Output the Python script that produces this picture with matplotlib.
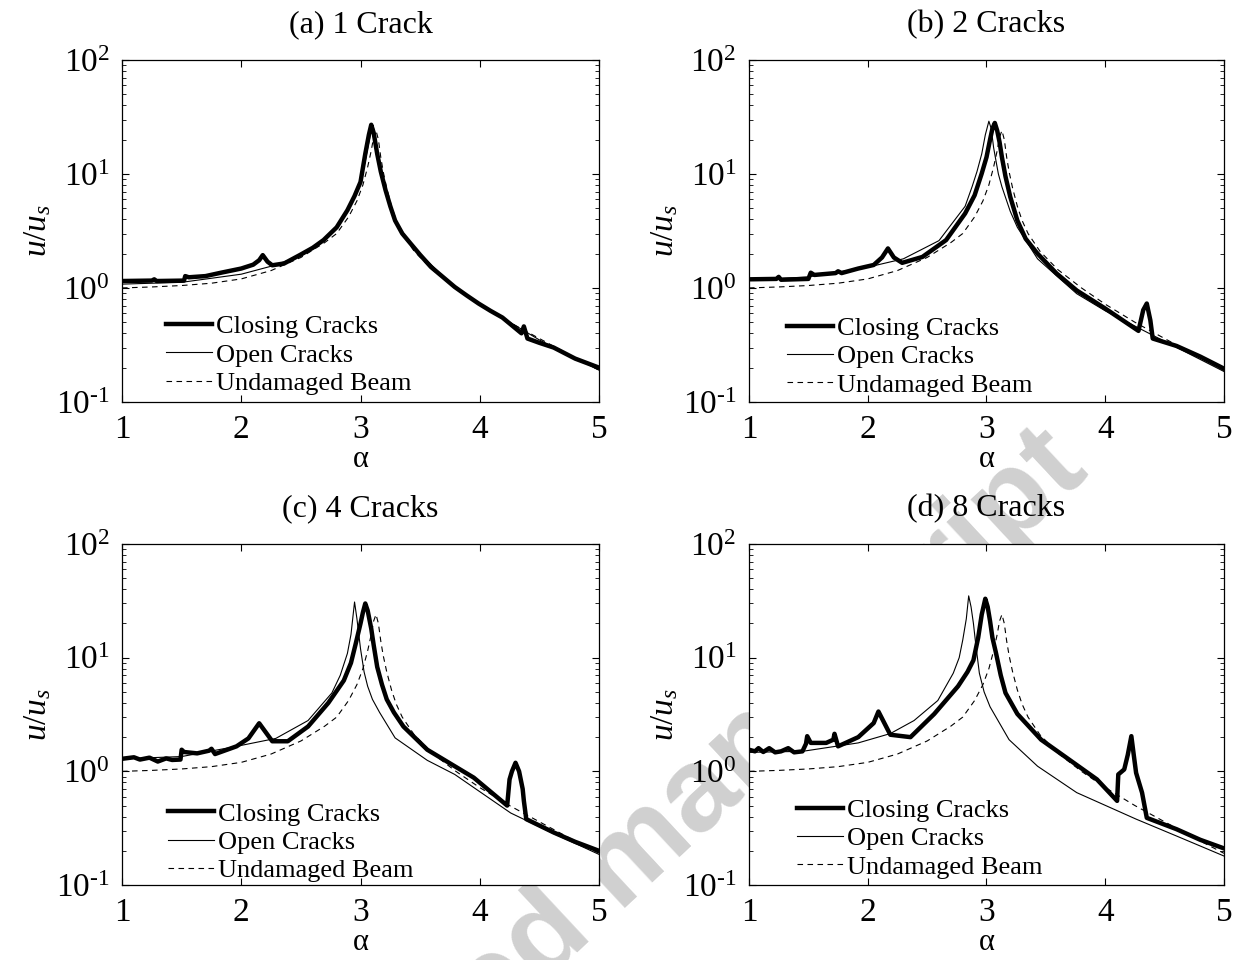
import numpy as np
import matplotlib
matplotlib.use("Agg")
import matplotlib.pyplot as plt

plt.rcParams['font.family'] = ['Liberation Serif', 'DejaVu Serif']
plt.rcParams['mathtext.fontset'] = 'custom'
plt.rcParams['mathtext.rm'] = 'Liberation Serif'
plt.rcParams['mathtext.it'] = 'Liberation Serif:italic'

# undamaged beam, same in every panel
und_alpha = [1.0, 1.25, 1.5, 1.75, 2.0, 2.25, 2.5, 2.7, 2.8, 2.9, 2.97, 3.02, 3.06, 3.09, 3.11,
             3.13, 3.15, 3.17, 3.19, 3.22, 3.26, 3.3, 3.35, 3.45, 3.6, 3.8, 4.0, 4.25, 4.5,
             4.75, 5.0]
und_u = [1.0, 1.02, 1.05, 1.1, 1.2, 1.42, 1.85, 2.5, 3.0, 4.2, 5.8, 8.0, 11.5, 16, 21,
         24, 20, 14, 10.5, 7.5, 5.2, 3.9, 3.0, 2.1, 1.45, 1.0, 0.72, 0.5, 0.36,
         0.26, 0.19]

# (a) 1 crack
a_close_alpha = [1.0, 1.25, 1.27, 1.29, 1.52, 1.53, 1.56, 1.7, 1.83, 2.0, 2.1, 2.15, 2.18, 2.22,
                 2.26, 2.36, 2.49, 2.6, 2.69, 2.8, 2.89, 2.95, 3.0, 3.04, 3.07, 3.09, 3.11, 3.14,
                 3.17, 3.21, 3.25, 3.29, 3.35, 3.42, 3.5, 3.59, 3.69, 3.79, 3.89, 3.99, 4.09,
                 4.19, 4.35, 4.37, 4.40, 4.5, 4.62, 4.8, 5.0]
a_close_u = [1.15, 1.16, 1.19, 1.15, 1.16, 1.27, 1.24, 1.27, 1.36, 1.48, 1.6, 1.75, 1.94, 1.7,
             1.58, 1.64, 1.94, 2.25, 2.63, 3.4, 4.8, 6.4, 8.5, 15, 22, 27, 23, 15,
             10.5, 7.2, 5.2, 3.9, 3.0, 2.45, 1.95, 1.53, 1.25, 1.02, 0.86, 0.73, 0.63,
             0.55, 0.40, 0.46, 0.36, 0.33, 0.30, 0.24, 0.20]
a_open_alpha = [1.0, 1.5, 2.0, 2.25, 2.5, 2.7, 2.85, 2.95, 3.0, 3.04, 3.07, 3.09, 3.11, 3.13,
                3.16, 3.2, 3.25, 3.3, 3.4, 3.5, 3.75, 4.0, 4.5, 5.0]
a_open_u = [1.08, 1.12, 1.32, 1.55, 1.9, 2.6, 4.0, 6.2, 8.5, 13, 19, 24, 25, 19,
            12, 7.5, 5.0, 3.8, 2.6, 2.0, 1.1, 0.72, 0.35, 0.19]

# (b) 2 cracks
b_close_alpha = [1.0, 1.23, 1.25, 1.27, 1.5, 1.52, 1.55, 1.73, 1.75, 1.78, 1.92, 2.05, 2.12, 2.17,
                 2.22, 2.29, 2.46, 2.66, 2.82, 2.9, 2.96, 3.0, 3.03, 3.05, 3.07, 3.09, 3.11,
                 3.13, 3.16, 3.2, 3.26, 3.33, 3.43, 3.59, 3.76, 4.0, 4.28, 4.32, 4.35, 4.38,
                 4.40, 4.6, 4.8, 5.0]
b_close_u = [1.19, 1.2, 1.25, 1.18, 1.2, 1.36, 1.3, 1.35, 1.4, 1.35, 1.48, 1.59, 1.85, 2.22,
             1.85, 1.66, 1.87, 2.63, 4.5, 6.5, 10.1, 14, 20, 25, 28, 24, 19,
             14, 9.5, 6.3, 3.9, 2.7, 2.0, 1.34, 0.95, 0.66, 0.42, 0.64, 0.73, 0.52,
             0.36, 0.31, 0.25, 0.196]
b_open_alpha = [1.0, 1.5, 2.0, 2.3, 2.6, 2.82, 2.88, 2.92, 2.96, 2.99, 3.02, 3.04, 3.06, 3.08,
                3.1, 3.13, 3.2, 3.26, 3.43, 3.6, 3.76, 4.0, 4.5, 5.0]
b_open_u = [1.17, 1.25, 1.52, 1.8, 2.6, 5.2, 7.8, 10.5, 15, 22, 29, 25, 17, 13,
            10, 7.7, 4.7, 3.4, 1.8, 1.25, 0.89, 0.63, 0.34, 0.185]

# (c) 4 cracks
c_close_alpha = [1.0, 1.1, 1.15, 1.23, 1.3, 1.37, 1.42, 1.49, 1.5, 1.52, 1.63, 1.73, 1.75, 1.78,
                 1.96, 2.06, 2.15, 2.26, 2.39, 2.56, 2.73, 2.86, 2.92, 2.96, 3.0, 3.02, 3.04,
                 3.06, 3.09, 3.11, 3.14, 3.18, 3.22, 3.28, 3.36, 3.56, 3.79, 3.95, 4.23, 4.25,
                 4.27, 4.3, 4.33, 4.36, 4.37, 4.39, 4.62, 4.8, 5.0]
c_close_u = [1.29, 1.33, 1.27, 1.32, 1.22, 1.3, 1.26, 1.27, 1.55, 1.48, 1.44, 1.52, 1.58, 1.42,
             1.66, 1.95, 2.65, 1.84, 1.84, 2.48, 4.0, 6.3, 9.0, 13.3, 20, 25, 30,
             26, 18, 13, 8.3, 5.8, 4.3, 3.3, 2.48, 1.55, 1.11, 0.88, 0.5, 0.85,
             1.0, 1.19, 1.0, 0.7, 0.55, 0.38, 0.29, 0.24, 0.2]
c_open_alpha = [1.0, 1.5, 1.96, 2.29, 2.56, 2.76, 2.83, 2.89, 2.92, 2.95, 2.97, 3.0, 3.03, 3.06,
                3.1, 3.16, 3.29, 3.56, 3.79, 4.26, 4.6, 5.0]
c_open_u = [1.29, 1.35, 1.66, 1.95, 2.8, 4.9, 7.0, 10.9, 16, 30.9, 22, 12, 7.5, 5.6,
            4.3, 3.3, 1.97, 1.25, 0.94, 0.43, 0.29, 0.186]

# (d) 8 cracks
d_close_alpha = [1.0, 1.05, 1.08, 1.12, 1.17, 1.22, 1.27, 1.33, 1.38, 1.45, 1.48, 1.49, 1.52, 1.65,
                 1.71, 1.72, 1.75, 1.92, 2.05, 2.09, 2.19, 2.36, 2.56, 2.76, 2.84, 2.89, 2.93,
                 2.96, 2.99, 3.01, 3.03, 3.05, 3.08, 3.12, 3.16, 3.26, 3.46, 3.66, 3.93, 4.10,
                 4.11, 4.16, 4.19, 4.22, 4.24, 4.26, 4.31, 4.35, 4.6, 4.8, 5.0]
d_close_u = [1.55, 1.5, 1.6, 1.48, 1.6, 1.47, 1.5, 1.6, 1.47, 1.5, 1.75, 2.04, 1.78, 1.78,
             1.9, 2.14, 1.66, 2.0, 2.66, 3.36, 2.1, 2.0, 3.2, 5.6, 7.5, 9.5, 15,
             24, 33, 28, 21, 15, 11, 7.0, 4.9, 3.2, 1.9, 1.35, 0.85, 0.55,
             0.94, 1.04, 1.4, 2.04, 1.4, 0.97, 0.65, 0.39, 0.31, 0.25, 0.21]
d_open_alpha = [1.0, 1.45, 1.92, 2.19, 2.39, 2.59, 2.72, 2.77, 2.80, 2.83, 2.85, 2.87, 2.89, 2.91,
                2.94, 2.98, 3.03, 3.19, 3.43, 3.76, 4.26, 4.6, 5.0]
d_open_u = [1.47, 1.5, 1.78, 2.15, 2.8, 4.2, 7.3, 10, 14.3, 22, 35, 28, 20, 13,
            7.3, 5.0, 3.7, 1.9, 1.11, 0.65, 0.38, 0.27, 0.18]

titles = ['(a) 1 Crack', '(b) 2 Cracks', '(c) 4 Cracks', '(d) 8 Cracks']
labels = ['Closing Cracks', 'Open Cracks', 'Undamaged Beam']
y_ticks = [0.1, 1, 10, 100]
y_tick_labels = [r'10$^{\text{-}1}$', '10$^{0}$', '10$^{1}$', '10$^{2}$']

panels = [
    (a_close_alpha, a_close_u, a_open_alpha, a_open_u),
    (b_close_alpha, b_close_u, b_open_alpha, b_open_u),
    (c_close_alpha, c_close_u, c_open_alpha, c_open_u),
    (d_close_alpha, d_close_u, d_open_alpha, d_open_u),
]

# axes boxes in figure fractions [left, bottom, width, height]
boxes = [[0.0981, 0.5813, 0.3834, 0.3563],
         [0.6021, 0.5813, 0.3818, 0.3563],
         [0.0981, 0.0781, 0.3834, 0.3552],
         [0.6021, 0.0781, 0.3818, 0.3552]]
legend_pos = [(0.07, -0.01), (0.058, -0.015), (0.074, -0.022), (0.079, -0.012)]

fig = plt.figure(figsize=(12.44, 9.6), dpi=100)

# watermark sits behind the axes
fig.text(0.503, 0.098, 'Accepted manuscript', family='Liberation Sans', weight='bold',
         fontsize=86, color='#d0d0d0', rotation=43, rotation_mode='anchor',
         ha='center', va='center', zorder=-5)


# draw one panel
def draw_panel(ax, data, title, lpos):
    ca, cu, oa, ou = data
    l1, = ax.plot(ca, cu, color='black', lw=3.2, zorder=4, solid_joinstyle='round')
    l2, = ax.plot(oa, ou, color='black', lw=0.8, zorder=3)
    l3, = ax.plot(und_alpha, und_u, color='black', lw=0.8, ls=(0, (5, 4)), zorder=2)
    ax.set_yscale('log')
    ax.set_xlim(1, 5)
    ax.set_ylim(0.1, 100)
    ax.set_xticks([1, 2, 3, 4, 5])
    ax.set_xticklabels(['1', '2', '3', '4', '5'])
    ax.set_yticks(y_ticks)
    ax.set_yticklabels(y_tick_labels)
    ax.tick_params(which='both', direction='in', top=True, right=True, labelsize=24, pad=9)
    ax.tick_params(which='major', length=5, width=0.8)
    ax.tick_params(which='minor', length=3, width=0.6)
    for s in ax.spines.values():
        s.set_linewidth(0.9)
    ax.set_title(title, fontsize=23, pad=20)
    ax.set_xlabel('α', fontsize=22, labelpad=0)
    ax.set_ylabel('$u/u_s$', fontsize=24, labelpad=2)
    ax.legend([l1, l2, l3], labels, loc='lower left', bbox_to_anchor=lpos, frameon=False,
              fontsize=19, handlelength=1.75, handletextpad=0.15, labelspacing=0.18,
              borderaxespad=0)


for i in range(4):
    ax = fig.add_axes(boxes[i])
    draw_panel(ax, panels[i], titles[i], legend_pos[i])

fig.savefig('out.png', dpi=100)
